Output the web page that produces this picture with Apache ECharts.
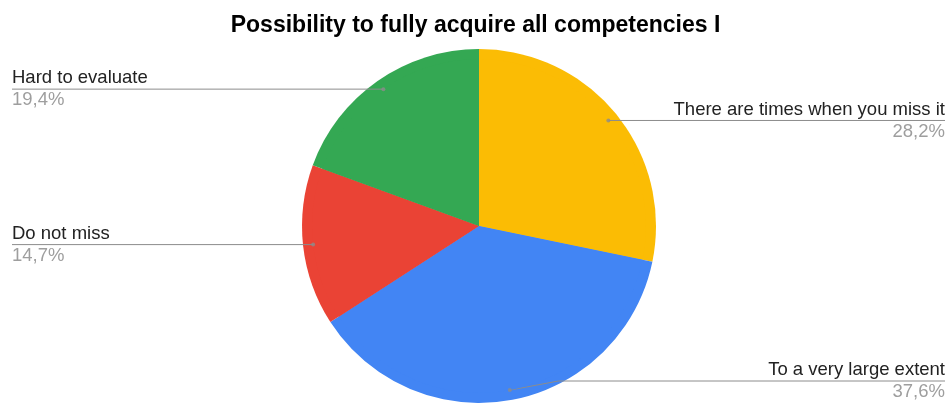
<!DOCTYPE html>
<html>
<head>
    <meta charset="utf-8">
    <title>Possibility to fully acquire all competencies I</title>
    <script src="https://cdn.jsdelivr.net/npm/echarts@6/dist/echarts.min.js"></script>
</head>
<body style="margin:0">
<div id="main" style="width:951px;height:404px;"></div>
<script type="text/javascript">
    // answers, clockwise from 12 o'clock
    var categories = ['There are times when you miss it', 'To a very large extent', 'Do not miss', 'Hard to evaluate'];
    var shares = [28.2, 37.6, 14.7, 19.4];
    var colors = ['#fbbc04', '#4285f4', '#ea4335', '#34a853'];

    var font = 'Arial, "Liberation Sans", sans-serif';
    var total = shares.reduce(function (a, b) { return a + b; }, 0);

    var pieData = categories.map(function (name, i) {
        return { name: name, value: shares[i], itemStyle: { color: colors[i] } };
    });

    // small dots where the label lines start (middle of each slice)
    var dots = [];
    var acc = 0;
    shares.forEach(function (v) {
        dots.push([0.943, acc + v / 2]);
        acc += v;
    });

    var myChart = echarts.init(document.getElementById('main'));

    var option = {
        backgroundColor: '#fff',
        textStyle: { fontFamily: font },
        animation: false,
        title: {
            text: 'Possibility to fully acquire all competencies I',
            left: 'center',
            top: 9,
            textStyle: { fontFamily: font, fontSize: 23, fontWeight: 'bold', color: '#000' }
        },
        polar: { center: [479, 226], radius: 177 },
        angleAxis: { type: 'value', min: 0, max: total, startAngle: 90, clockwise: true, show: false },
        radiusAxis: { type: 'value', min: 0, max: 1, show: false },
        series: [
            {
                type: 'pie',
                left: 3,
                right: -3,
                center: [476, 226],
                radius: 177,
                startAngle: 90,
                clockwise: true,
                silent: true,
                label: { show: false },
                labelLine: { show: false },
                emphasis: { disabled: true },
                data: pieData
            },
            {
                type: 'pie',
                left: 3,
                right: -3,
                center: [476, 226],
                radius: 167,
                startAngle: 90,
                clockwise: true,
                silent: true,
                z: 3,
                emphasis: { disabled: true },
                data: pieData,
                label: {
                    alignTo: 'edge',
                    edgeDistance: 9,
                    minMargin: 5,
                    formatter: function (p) {
                        return '{name|' + p.name + '}\n{pct|' + p.value.toFixed(1).replace('.', ',') + '%}';
                    },
                    rich: {
                        name: { fontFamily: font, fontSize: 18.5, color: '#222', lineHeight: 22 },
                        pct: { fontFamily: font, fontSize: 18.5, color: '#9e9e9e', lineHeight: 22 }
                    }
                },
                labelLine: {
                    length: 0,
                    length2: 0,
                    lineStyle: { color: '#8c8c8c', width: 1 }
                },
                labelLayout: function (params) {
                    var isLeft = params.labelRect.x < myChart.getWidth() / 2;
                    var points = params.labelLinePoints;
                    points[2][0] = isLeft ? params.labelRect.x : params.labelRect.x + params.labelRect.width;
                    return { labelLinePoints: points };
                }
            },
            {
                type: 'scatter',
                coordinateSystem: 'polar',
                symbolSize: 4,
                silent: true,
                z: 4,
                itemStyle: { color: '#8c8c8c' },
                data: dots
            }
        ]
    };

    myChart.setOption(option);
</script>
</body>
</html>
